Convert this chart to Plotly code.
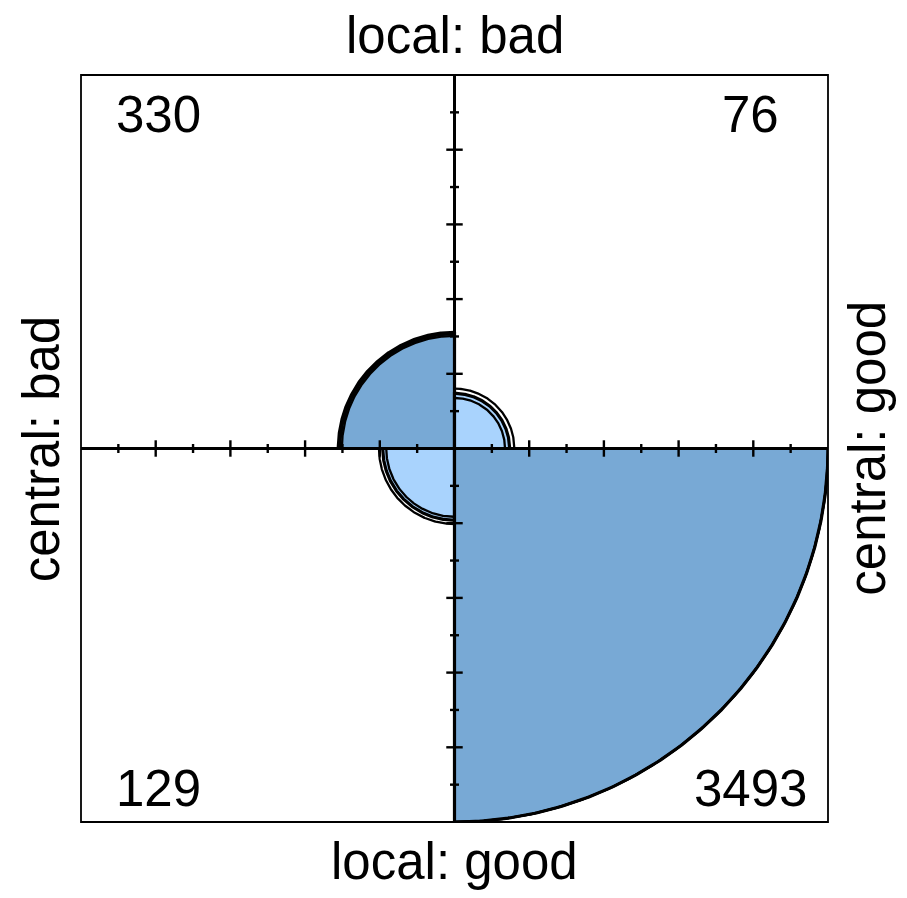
import numpy as np
import plotly.graph_objects as go

# ---- data ----
row_labels = ["local: bad", "local: good"]        # top / bottom
col_labels = ["central: bad", "central: good"]    # left / right
counts_top = [330, 76]      # [central bad, central good] for local bad
counts_bottom = [129, 3493] # [central bad, central good] for local good
conf_level = 0.95
tick_values = [0.1, 0.2, 0.3, 0.4, 0.5, 0.6, 0.7, 0.8, 0.9]

dark = "#78A9D5"
light = "#A9D3FD"

tab = np.array([counts_top, counts_bottom], dtype=float)

def radii(t):
    return np.sqrt(t / t.max())

# confidence ring tables (same margins, odds ratio at CI bounds)
theta = tab[0, 0] * tab[1, 1] / (tab[0, 1] * tab[1, 0])
se = np.sqrt((1.0 / tab).sum())
z = 1.959963984540054
ring_tabs = []
r1 = tab[0].sum(); c1 = tab[:, 0].sum(); N = tab.sum()
for th in theta * np.exp(np.array([-1, 1]) * z * se):
    A = 1 - th
    B = N - r1 - c1 + th * (r1 + c1)
    C = -th * r1 * c1
    roots = np.roots([A, B, C])
    lo, hi = max(0, r1 + c1 - N), min(r1, c1)
    a = [x.real for x in roots if lo <= x.real <= hi][0]
    ring_tabs.append(np.array([[a, r1 - a], [c1 - a, N - r1 - c1 + a]]))

angles = {(0, 0): (90, 180), (0, 1): (0, 90), (1, 0): (180, 270), (1, 1): (270, 360)}
fills = {(0, 0): dark, (1, 1): dark, (0, 1): light, (1, 0): light}

fig = go.Figure()
R = radii(tab)
for (i, j), (a0, a1) in angles.items():
    t = np.radians(np.linspace(a0, a1, 240))
    r = R[i, j]
    xs = np.concatenate([[0], r * np.cos(t), [0]])
    ys = np.concatenate([[0], r * np.sin(t), [0]])
    fig.add_trace(go.Scatter(x=xs, y=ys, mode="lines", fill="toself",
                             fillcolor=fills[(i, j)],
                             line=dict(color="black", width=3.2),
                             hoverinfo="skip", showlegend=False))

for rt in ring_tabs:
    Rr = radii(rt)
    for (i, j), (a0, a1) in angles.items():
        t = np.radians(np.linspace(a0, a1, 240))
        r = Rr[i, j]
        fig.add_trace(go.Scatter(x=r * np.cos(t), y=r * np.sin(t), mode="lines",
                                 line=dict(color="black", width=2.3),
                                 hoverinfo="skip", showlegend=False))

# axes through center
fig.add_trace(go.Scatter(x=[-1, 1, None, 0, 0], y=[0, 0, None, -1, 1], mode="lines",
                         line=dict(color="black", width=3),
                         hoverinfo="skip", showlegend=False))

# ticks
tx, ty = [], []
for v in tick_values:
    h = 0.022 if round(v * 10) % 2 == 0 else 0.012
    for s in (-1, 1):
        tx += [s * v, s * v, None]
        ty += [-h, h, None]
        tx += [-h, h, None]
        ty += [s * v, s * v, None]
fig.add_trace(go.Scatter(x=tx, y=ty, mode="lines", line=dict(color="black", width=2.4),
                         hoverinfo="skip", showlegend=False))

def px(v):  # data -> paper
    return (v + 1) / 2

font = dict(family="Liberation Sans, Arial, sans-serif", size=51, color="black")
ann = []
ann.append(dict(x=px(0), y=px(1.105), text=row_labels[0]))
ann.append(dict(x=px(0), y=px(-1.105), text=row_labels[1]))
ann.append(dict(x=px(-1.105), y=px(0), text=col_labels[0], textangle=-90))
ann.append(dict(x=px(1.105), y=px(0), text=col_labels[1], textangle=-90))
ann.append(dict(x=px(-0.793), y=px(0.893), text=str(counts_top[0])))
ann.append(dict(x=px(0.793), y=px(0.893), text=str(counts_top[1])))
ann.append(dict(x=px(-0.793), y=px(-0.909), text=str(counts_bottom[0])))
ann.append(dict(x=px(0.793), y=px(-0.909), text=str(counts_bottom[1])))
for a in ann:
    a.update(xref="paper", yref="paper", showarrow=False, font=font,
             xanchor="center", yanchor="middle")

fig.update_layout(
    width=907, height=898,
    margin=dict(l=73, r=87, t=67, b=84),
    paper_bgcolor="white", plot_bgcolor="white",
    xaxis=dict(range=[-1, 1], visible=False, fixedrange=True),
    yaxis=dict(range=[-1, 1], visible=False, fixedrange=True),
    annotations=ann,
    shapes=[dict(type="rect", xref="paper", yref="paper", x0=0, y0=0, x1=1, y1=1,
                 line=dict(color="black", width=1.8))],
    showlegend=False,
)

fig.write_html("out.html")
